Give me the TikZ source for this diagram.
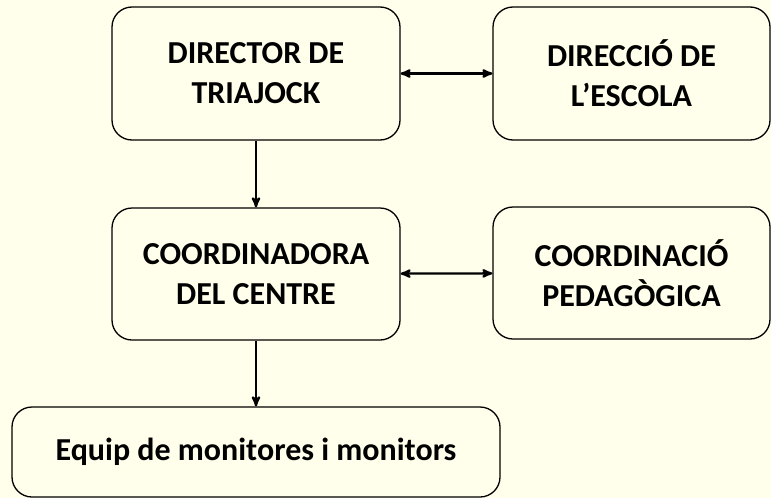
\documentclass[tikz,border=0pt]{standalone}
\usepackage{fontspec}
\setmainfont{Carlito}
\usepackage{tikz}
\usetikzlibrary{arrows}
\definecolor{paper}{RGB}{255,255,235}

\begin{document}
\begin{tikzpicture}[x=1pt,y=-1pt,>=stealth',
  box/.style={draw,rounded corners=20pt,line width=1.3pt,fill=paper,align=center,
    font=\fontsize{32}{40}\selectfont\bfseries,inner sep=0pt},
  link/.style={draw,line width=2.3pt}]
	\fill[paper] (0,0) rectangle (771,498);
	\useasboundingbox (0,0) rectangle (771,498);

	\node [box, minimum width=288pt, minimum height=133pt] (A) at (256,73.5) {DIRECTOR DE\\TRIAJOCK};
	\node [box, minimum width=277pt, minimum height=133pt] (B) at (631.5,73.5) {DIRECCIÓ DE\\L’ESCOLA};
	\node [box, minimum width=288pt, minimum height=132pt] (C) at (256,274) {COORDINADORA\\DEL CENTRE};
	\node [box, minimum width=277pt, minimum height=132pt] (D) at (631.5,273) {COORDINACIÓ\\PEDAGÒGICA};
	\node [box, minimum width=488pt, minimum height=90pt] (E) at (256,452) {Equip de monitores i monitors};

  \path[link,<->] (A) -- (B);
  \path[link,<->] (C) -- (D);
  \path[link,->] (A) -- (C);
  \path[link,->] (C) -- (E);

  \end{tikzpicture}
\end{document}
